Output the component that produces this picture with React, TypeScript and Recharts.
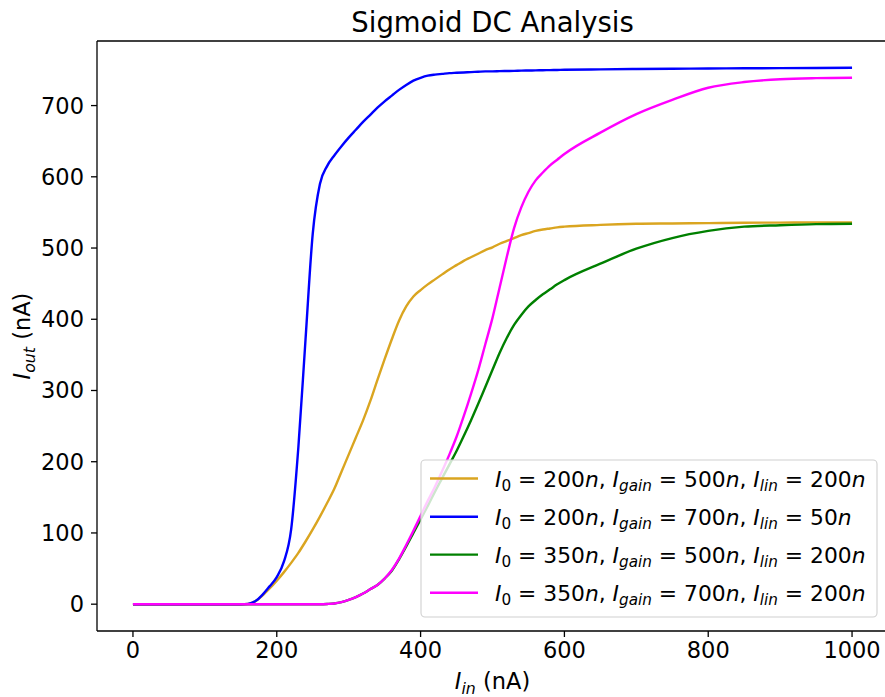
import React from 'react';
import { LineChart, Line, XAxis, YAxis } from 'recharts';

const iin = [0, 50, 100, 150, 160, 170, 180, 190, 200, 210, 220, 230, 240, 250, 260, 270, 280, 290, 300, 310, 320, 330, 340, 350, 360, 370, 380, 390, 400, 410, 420, 430, 440, 450, 460, 470, 480, 490, 500, 510, 520, 530, 540, 550, 560, 570, 580, 590, 600, 650, 700, 750, 800, 850, 900, 950, 1000];

const goldVals = [0, 0, 0, 0, 0.5, 4, 12, 22, 33, 45, 58, 72, 88, 105, 123, 142, 162, 186, 210, 234, 258, 285, 315, 344, 372, 398, 418, 432, 441, 449, 456, 463, 470, 476, 482, 487, 492, 497, 501, 506, 510, 514, 518, 521, 524, 526, 527.5, 529, 530, 532.5, 534, 534.5, 535, 535.5, 535.7, 536, 536];

const blueVals = [0, 0, 0, 0, 0.5, 4, 13, 25, 38, 60, 105, 220, 372, 520, 590, 615, 630, 643, 655, 666, 677, 687, 697, 706, 714, 722, 729, 735, 739, 742, 743.5, 744.5, 745.5, 746, 746.5, 747, 747.5, 748, 748, 748.3, 748.5, 748.7, 749, 749.2, 749.4, 749.6, 749.8, 750, 750.2, 750.8, 751.3, 751.7, 752, 752.3, 752.6, 752.8, 753];

const greenVals = [0, 0, 0, 0, 0, 0, 0, 0, 0, 0, 0, 0, 0, 0, 0, 0.3, 1, 3, 6, 10, 15, 21, 27, 36, 47, 63, 81, 100, 119, 138, 158, 177, 196, 215, 236, 258, 281, 305, 329, 353, 374, 392, 406, 418, 427, 435, 442, 449, 455, 478, 499, 514, 524, 530, 532, 533.5, 534];

const magentaVals = [0, 0, 0, 0, 0, 0, 0, 0, 0, 0, 0, 0, 0, 0, 0, 0.3, 1, 3, 6, 10, 15, 21, 27, 36, 48, 64, 83, 103, 124, 145, 165, 187, 210, 235, 264, 295, 328, 365, 402, 445, 488, 528, 557, 579, 595, 606, 616, 624, 632, 662, 688, 708, 725, 733, 737, 738.5, 739];

const xTicks = [0, 200, 400, 600, 800, 1000];
const yTicks = [0, 100, 200, 300, 400, 500, 600, 700];

const seriesKeys = ['s1', 's2', 's3', 's4'];
const seriesColors = ['#DAA520', '#0000FF', '#008000', '#FF00FF'];
const legendI0 = ['200', '200', '350', '350'];
const legendGain = ['500', '700', '500', '700'];
const legendLin = ['200', '50', '200', '200'];

const titleText = 'Sigmoid DC Analysis';
const FONT = "'DejaVu Sans', sans-serif";

type Part = { t: string; it?: boolean; sub?: boolean };

function MathText({ parts, fontSize, ...rest }: { parts: Part[]; fontSize: number; [k: string]: any }) {
  const shift = fontSize * 0.2;
  let inSub = false;
  return (
    <text fontFamily={FONT} fontSize={fontSize} fill="#000" {...rest}>
      {parts.map((p, i) => {
        let dy = 0;
        if (p.sub && !inSub) { dy = shift; inSub = true; }
        else if (!p.sub && inSub) { dy = -shift; inSub = false; }
        return (
          <tspan key={i} dy={dy || undefined} fontStyle={p.it ? 'italic' : 'normal'} fontSize={p.sub ? fontSize * 0.7 : fontSize} style={{ whiteSpace: 'pre' }}>
            {p.t}
          </tspan>
        );
      })}
    </text>
  );
}

function legendParts(i: number): Part[] {
  return [
    { t: 'I', it: true }, { t: '0', sub: true }, { t: ' = ' + legendI0[i] }, { t: 'n', it: true }, { t: ', ' },
    { t: 'I', it: true }, { t: 'gain', it: true, sub: true }, { t: ' = ' + legendGain[i] }, { t: 'n', it: true }, { t: ', ' },
    { t: 'I', it: true }, { t: 'lin', it: true, sub: true }, { t: ' = ' + legendLin[i] }, { t: 'n', it: true },
  ];
}

export default function App() {
  const data = iin.map((x, i) => ({ x, s1: goldVals[i], s2: blueVals[i], s3: greenVals[i], s4: magentaVals[i] }));
  const legendX = 421, legendY = 460, legendW = 456, legendH = 157;
  const rowY = [478.5, 516.7, 554.6, 592.7];
  return (
    <div style={{ position: 'absolute', left: 0, top: 0, width: 885, height: 697, overflow: 'hidden', background: '#fff' }}>
      <LineChart width={891} height={697} data={data} margin={{ top: 41, right: 3, bottom: 0, left: 0 }}>
        <XAxis dataKey="x" type="number" domain={[-50, 1050]} ticks={xTicks} interval={0} height={66} tickSize={6} tickMargin={5}
          axisLine={{ stroke: '#000', strokeWidth: 1.3 }} tickLine={{ stroke: '#000', strokeWidth: 1.3 }}
          tick={{ fill: '#000', fontSize: 22.5, fontFamily: FONT }} allowDataOverflow />
        <YAxis type="number" domain={[-37.65, 790.65]} ticks={yTicks} interval={0} width={97} tickSize={6} tickMargin={7}
          axisLine={{ stroke: '#000', strokeWidth: 1.3 }} tickLine={{ stroke: '#000', strokeWidth: 1.3 }}
          tick={{ fill: '#000', fontSize: 22.5, fontFamily: FONT }} allowDataOverflow />
        {seriesKeys.map((k, i) => (
          <Line key={k} dataKey={k} type="monotone" stroke={seriesColors[i]} strokeWidth={2.4} dot={false} isAnimationActive={false} />
        ))}
      </LineChart>
      <svg width={885} height={697} style={{ position: 'absolute', left: 0, top: 0, pointerEvents: 'none' }}>
        <line x1={97} x2={885} y1={41} y2={41} stroke="#000" strokeWidth={1.3} />
        <text x={492.5} y={32} textAnchor="middle" fontFamily={FONT} fontSize={27.5} fill="#000">{titleText}</text>
        <MathText x={492.5} y={689} textAnchor="middle" fontSize={22.5} parts={[{ t: 'I', it: true }, { t: 'in', it: true, sub: true }, { t: ' (nA)' }]} />
        <MathText x={0} y={0} textAnchor="middle" fontSize={22.5} transform="translate(30,336) rotate(-90)" parts={[{ t: 'I', it: true }, { t: 'out', it: true, sub: true }, { t: ' (nA)' }]} />
        <rect x={legendX} y={legendY} width={legendW} height={legendH} rx={4} ry={4} fill="#fff" fillOpacity={0.8} stroke="#d0d0d0" strokeWidth={1.1} />
        {rowY.map((ry, i) => (
          <g key={i}>
            <line x1={430} x2={478} y1={ry} y2={ry} stroke={seriesColors[i]} strokeWidth={2.4} />
            <MathText x={495} y={ry + 8} fontSize={21.8} parts={legendParts(i)} />
          </g>
        ))}
      </svg>
    </div>
  );
}
